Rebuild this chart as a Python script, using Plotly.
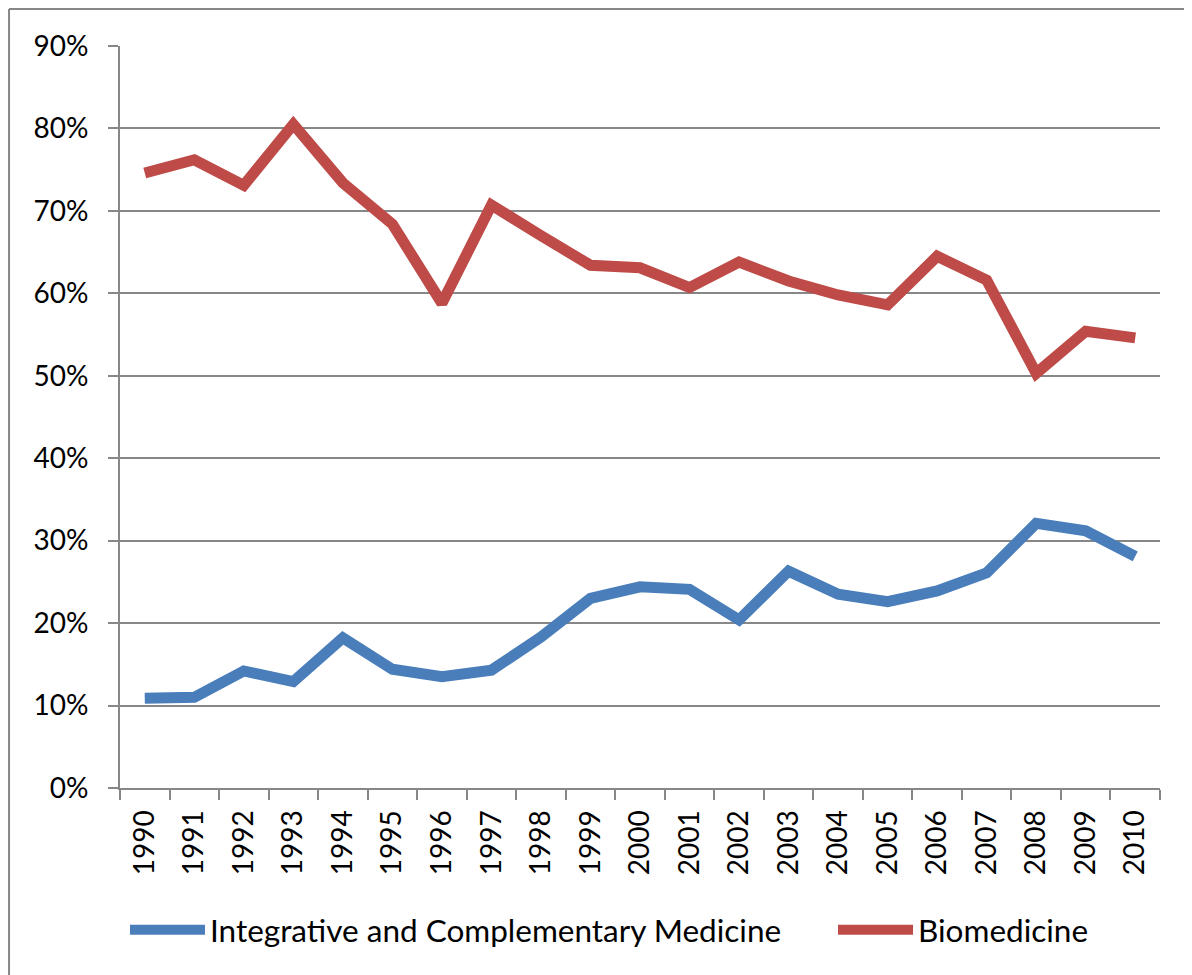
import plotly.graph_objects as go

years = [str(y) for y in range(1990, 2011)]
integrative = [10.9, 11.0, 14.2, 12.9, 18.2, 14.4, 13.5, 14.3, 18.3, 23.0, 24.4,
               24.1, 20.4, 26.3, 23.5, 22.6, 23.9, 26.1, 32.1, 31.2, 28.1]
biomedicine = [74.6, 76.2, 73.1, 80.5, 73.4, 68.4, 58.8, 70.7, 67.0, 63.4, 63.1,
               60.7, 63.8, 61.5, 59.8, 58.6, 64.5, 61.6, 50.3, 55.4, 54.6]
y_ticks = [0, 10, 20, 30, 40, 50, 60, 70, 80, 90]
y_tick_labels = [f"{v}%" for v in y_ticks]

FONT = "Lato"
GRAY = "#878787"

fig = go.Figure()
fig.add_trace(go.Scatter(x=years, y=integrative, mode="lines",
                         name="Integrative and Complementary Medicine",
                         line=dict(color="#4A7EBB", width=11), legend="legend"))
fig.add_trace(go.Scatter(x=years, y=biomedicine, mode="lines",
                         name="Biomedicine",
                         line=dict(color="#BE4B48", width=11), legend="legend2"))

legend_common = dict(orientation="h", xanchor="left", y=-0.191, yanchor="middle",
                     itemwidth=75, font=dict(family=FONT, size=31.5),
                     itemclick=False, bgcolor="rgba(0,0,0,0)")

fig.update_layout(
    width=1184, height=967,
    margin=dict(l=112, r=32, t=38, b=187, autoexpand=False),
    paper_bgcolor="white", plot_bgcolor="white",
    font=dict(family=FONT, size=28, color="black"),
    showlegend=True,
    legend=dict(x=0.0048, **legend_common),
    legend2=dict(x=0.6856, **legend_common),
    xaxis=dict(type="category", range=[-0.5, 20.5], tickson="boundaries",
               ticks="outside", ticklen=10, tickwidth=2, tickcolor=GRAY,
               showline=True, linecolor=GRAY, linewidth=2,
               showgrid=False, tickangle=-90, ticklabelstandoff=9,
               tickfont=dict(family=FONT, size=28)),
    yaxis=dict(range=[0, 90], tickvals=y_ticks, ticktext=y_tick_labels,
               ticks="outside", ticklen=10, tickwidth=2, tickcolor=GRAY,
               showline=True, linecolor=GRAY, linewidth=2,
               showgrid=True, gridcolor=GRAY, gridwidth=2, zeroline=False,
               ticklabelstandoff=14, tickfont=dict(family=FONT, size=28)),
    shapes=[
        dict(type="line", xref="paper", yref="paper", x0=-0.1067, x1=1.04,
             y0=1.0499, y1=1.0499, line=dict(color=GRAY, width=2)),
        dict(type="line", xref="paper", yref="paper", x0=-0.1067, x1=-0.1067,
             y0=1.0499, y1=-0.26, line=dict(color=GRAY, width=2)),
    ],
)

fig.write_html("out.html")
